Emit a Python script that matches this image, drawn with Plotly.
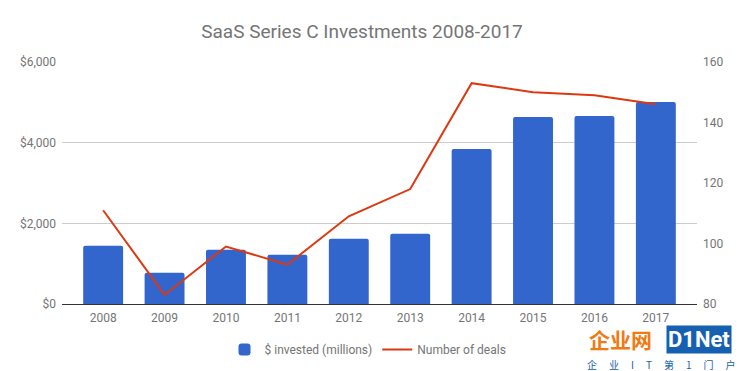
import plotly.graph_objects as go

years = ["2008", "2009", "2010", "2011", "2012", "2013", "2014", "2015", "2016", "2017"]
invested = [1443, 775, 1344, 1220, 1616, 1740, 3844, 4636, 4661, 5007]
deals = [111, 83, 99, 93, 109, 118, 153, 150, 149, 146]
left_ticks = [0, 2000, 4000, 6000]
left_labels = ["$0", "$2,000", "$4,000", "$6,000"]
right_ticks = [80, 100, 120, 140, 160]

FONT = "Roboto"
GREY = "#757575"

fig = go.Figure()
fig.add_trace(go.Bar(
    x=years, y=invested, name="$ invested (millions)",
    marker=dict(color="#3366CC", line=dict(width=0)),
    width=0.65, yaxis="y",
))
fig.add_trace(go.Scatter(
    x=years, y=deals, name="Number of deals", mode="lines",
    line=dict(color="#DC3912", width=2), yaxis="y2",
))

fig.update_layout(
    width=742, height=371,
    margin=dict(l=62, r=45, t=62, b=67, autoexpand=False),
    paper_bgcolor="white", plot_bgcolor="white",
    font=dict(family=FONT, size=12, color=GREY),
    title=dict(text="SaaS Series C Investments 2008-2017",
               x=362 / 742, xanchor="center", xref="container",
               y=1 - 31 / 371, yanchor="middle", yref="container",
               font=dict(family=FONT, size=19, color="#757575")),
    barcornerradius=2,
    xaxis=dict(type="category", range=[-0.67, 9.67], showgrid=False,
               showline=True, linecolor="#333333", linewidth=1,
               ticks="", ticklabelstandoff=3, tickfont=dict(size=12, color=GREY)),
    yaxis=dict(range=[0, 6000], tickvals=left_ticks, ticktext=left_labels,
               showgrid=True, gridcolor="#CCCCCC", gridwidth=1,
               zeroline=False, ticks="", ticklabelstandoff=5,
               tickfont=dict(size=12, color=GREY)),
    yaxis2=dict(range=[80, 160], tickvals=right_ticks, overlaying="y",
                side="right", showgrid=False, zeroline=False, ticks="",
                ticklabelstandoff=5, tickfont=dict(size=12, color=GREY)),
    legend=dict(orientation="h", x=(368 - 62) / 635, xanchor="center",
                y=-(335 - 304) / 242, yanchor="top", itemwidth=30,
                font=dict(size=12, color=GREY), traceorder="normal"),
    showlegend=True,
)

# watermark
fig.add_annotation(text="<b>企业网</b>", xref="paper", yref="paper",
                   x=(620 - 62) / 635, y=-(339 - 304) / 242, showarrow=False,
                   font=dict(family="Noto Sans CJK SC", size=21, color="#F07B14"),
                   xanchor="center", yanchor="middle")
fig.add_annotation(text="<b>D1Net</b>", xref="paper", yref="paper",
                   x=(699 - 62) / 635, y=-(339 - 304) / 242, showarrow=False,
                   font=dict(family="Roboto", size=22, color="white"),
                   bgcolor="#1560B0", borderpad=1,
                   xanchor="center", yanchor="middle")
fig.add_annotation(text="企\u2003\u2009业\u2003\u2009I\u2003\u2009T\u2003\u2009第\u2003\u20091\u2003\u2009门\u2003\u2009户",
                   xref="paper", yref="paper",
                   x=(661 - 62) / 635, y=-(364 - 304) / 242, showarrow=False,
                   font=dict(family="Noto Sans CJK SC", size=10, color="#1560B0"),
                   xanchor="center", yanchor="middle")

fig.write_html("out.html", config={"displayModeBar": False},
               post_script="document.body.style.margin='0';document.body.style.overflow='hidden';")
